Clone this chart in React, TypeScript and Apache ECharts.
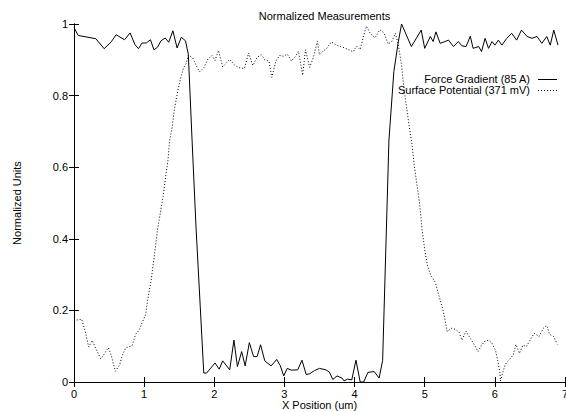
import React, { useEffect, useRef } from "react";
import * as echarts from "echarts";

const chartTitle = "Normalized Measurements";
const xAxisName = "X Position (um)";
const yAxisName = "Normalized Units";
const seriesNames = ["Force Gradient (85 A)", "Surface Potential (371 mV)"];

const forceGradient: number[][] = [
  [0.0, 0.99], [0.06, 0.968], [0.31, 0.959], [0.43, 0.931], [0.53, 0.95], [0.6, 0.97],
  [0.72, 0.956], [0.8, 0.975], [0.87, 0.942], [0.92, 0.931], [0.97, 0.947], [1.03, 0.947],
  [1.09, 0.956], [1.14, 0.928], [1.19, 0.935], [1.24, 0.953], [1.3, 0.961], [1.35, 0.949],
  [1.41, 0.981], [1.47, 0.933], [1.53, 0.963], [1.59, 0.953], [1.63, 0.915], [1.68, 0.69],
  [1.74, 0.43], [1.8, 0.21], [1.85, 0.025], [1.89, 0.025], [2.01, 0.053], [2.07, 0.036],
  [2.12, 0.059], [2.22, 0.034], [2.28, 0.117], [2.33, 0.043], [2.39, 0.085], [2.44, 0.045],
  [2.5, 0.11], [2.56, 0.071], [2.61, 0.071], [2.66, 0.104], [2.72, 0.059], [2.81, 0.045],
  [2.89, 0.063], [2.94, 0.046], [2.99, 0.017], [3.04, 0.038], [3.1, 0.033], [3.19, 0.034],
  [3.25, 0.061], [3.31, 0.021], [3.36, 0.023], [3.43, 0.032], [3.5, 0.038], [3.59, 0.034],
  [3.64, 0.028], [3.69, 0.007], [3.75, 0.017], [3.82, 0.011], [3.85, 0.003], [3.9, 0.008],
  [3.96, 0.006], [4.02, 0.061], [4.08, 0.0], [4.13, 0.0], [4.19, 0.027], [4.28, 0.029],
  [4.35, 0.011], [4.4, 0.06], [4.49, 0.676], [4.56, 0.867], [4.62, 0.946], [4.67, 1.0],
  [4.81, 0.937], [4.95, 0.983], [5.0, 0.932], [5.08, 0.965], [5.12, 0.951], [5.16, 0.978],
  [5.22, 0.946], [5.29, 0.951], [5.34, 0.955], [5.41, 0.937], [5.48, 0.951], [5.53, 0.939],
  [5.59, 0.937], [5.65, 0.966], [5.69, 0.932], [5.77, 0.937], [5.81, 0.923], [5.86, 0.96],
  [5.91, 0.932], [5.96, 0.951], [6.0, 0.941], [6.05, 0.955], [6.1, 0.941], [6.17, 0.96],
  [6.24, 0.974], [6.31, 0.955], [6.38, 0.983], [6.46, 0.965], [6.53, 0.96], [6.6, 0.965],
  [6.67, 0.946], [6.74, 0.965], [6.79, 0.941], [6.84, 0.983], [6.9, 0.941],
];

const surfacePotential: number[][] = [
  [0.0, 0.177], [0.04, 0.173], [0.11, 0.175], [0.16, 0.141], [0.21, 0.098], [0.26, 0.116],
  [0.31, 0.094], [0.38, 0.065], [0.42, 0.075], [0.49, 0.096], [0.53, 0.075], [0.59, 0.03],
  [0.65, 0.047], [0.69, 0.075], [0.74, 0.096], [0.79, 0.099], [0.83, 0.102], [0.88, 0.134],
  [0.93, 0.145], [0.98, 0.17], [1.02, 0.187], [1.05, 0.229], [1.1, 0.285], [1.15, 0.36],
  [1.19, 0.425], [1.23, 0.471], [1.27, 0.518], [1.3, 0.564], [1.34, 0.62], [1.36, 0.67],
  [1.4, 0.713], [1.43, 0.76], [1.48, 0.813], [1.52, 0.849], [1.56, 0.877], [1.6, 0.89],
  [1.63, 0.913], [1.69, 0.906], [1.74, 0.885], [1.79, 0.866], [1.85, 0.878], [1.91, 0.902],
  [1.97, 0.912], [2.01, 0.898], [2.06, 0.926], [2.12, 0.88], [2.17, 0.891], [2.22, 0.901],
  [2.29, 0.885], [2.35, 0.878], [2.43, 0.876], [2.49, 0.919], [2.55, 0.884], [2.61, 0.907],
  [2.67, 0.914], [2.72, 0.9], [2.78, 0.896], [2.82, 0.851], [2.88, 0.897], [2.93, 0.912],
  [2.99, 0.91], [3.04, 0.916], [3.1, 0.897], [3.16, 0.91], [3.2, 0.924], [3.26, 0.857],
  [3.3, 0.928], [3.36, 0.879], [3.41, 0.905], [3.47, 0.952], [3.5, 0.914], [3.55, 0.924],
  [3.6, 0.931], [3.67, 0.95], [3.73, 0.942], [3.79, 0.938], [3.86, 0.933], [3.92, 0.928],
  [3.98, 0.922], [4.03, 0.938], [4.08, 0.928], [4.12, 0.961], [4.17, 0.994], [4.22, 0.975],
  [4.29, 0.961], [4.36, 0.984], [4.42, 0.975], [4.48, 0.944], [4.53, 0.951], [4.58, 0.974],
  [4.62, 0.946], [4.67, 0.885], [4.7, 0.825], [4.74, 0.769], [4.78, 0.713], [4.82, 0.662],
  [4.85, 0.606], [4.89, 0.55], [4.93, 0.494], [4.96, 0.43], [5.0, 0.369], [5.04, 0.324],
  [5.09, 0.296], [5.15, 0.279], [5.21, 0.236], [5.26, 0.201], [5.29, 0.173], [5.32, 0.141],
  [5.38, 0.15], [5.44, 0.147], [5.49, 0.139], [5.53, 0.117], [5.59, 0.142], [5.62, 0.131],
  [5.67, 0.116], [5.71, 0.103], [5.76, 0.085], [5.8, 0.099], [5.85, 0.113], [5.91, 0.117],
  [5.96, 0.108], [6.01, 0.088], [6.04, 0.061], [6.07, 0.029], [6.08, 0.003], [6.11, 0.025],
  [6.15, 0.05], [6.2, 0.061], [6.26, 0.075], [6.3, 0.105], [6.35, 0.08], [6.4, 0.103],
  [6.45, 0.099], [6.49, 0.113], [6.56, 0.136], [6.63, 0.127], [6.69, 0.15], [6.74, 0.158],
  [6.78, 0.133], [6.84, 0.127], [6.89, 0.105],
];

const xMin = 0, xMax = 7, xStep = 1;
const yMin = 0, yMax = 1, yStep = 0.2;

const FONT = "'Liberation Sans', Arial, Helvetica, sans-serif";
const DOTS = [1, 2];

export default function App() {
  const ref = useRef<HTMLDivElement>(null);
  useEffect(() => {
    document.body.style.margin = "0";
    const chart = echarts.init(ref.current!, null, { renderer: "svg" });
    const axisLine = { show: true, lineStyle: { color: "#000", width: 1 } };
    const tick = { show: true, inside: true, length: 5, lineStyle: { color: "#000", width: 1 } };
    const label = { color: "#000", fontSize: 11, fontFamily: FONT };
    const legendRows = seriesNames.map((name, i) => {
      const cy = 79.5 + i * 11;
      return [
        {
          type: "text",
          right: 36,
          top: cy - 6,
          style: { text: name, fill: "#000", font: `11px ${FONT}`, textAlign: "right" },
        },
        {
          type: "line",
          shape: { x1: 538, y1: cy, x2: 557, y2: cy },
          style: { stroke: "#000", lineWidth: 1, lineDash: i === 1 ? DOTS : null },
        },
      ];
    }).flat();
    chart.setOption({
      animation: false,
      backgroundColor: "#fff",
      textStyle: { fontFamily: FONT },
      title: {
        text: chartTitle,
        left: 319.5,
        textAlign: "center",
        top: 5,
        textStyle: { color: "#000", fontSize: 11, fontWeight: "normal", fontFamily: FONT },
      },
      grid: { left: 74, right: 1, top: 24, bottom: 30, containLabel: false, outerBoundsMode: "none" },
      graphic: legendRows,
      xAxis: [
        {
          type: "value", min: xMin, max: xMax, interval: xStep, position: "bottom",
          name: xAxisName, nameLocation: "middle", nameGap: 17.5, nameMoveOverlap: false,
          nameTextStyle: { color: "#000", fontSize: 11, fontFamily: FONT },
          axisLine, axisTick: tick, splitLine: { show: false },
          axisLabel: { ...label, margin: 6 },
        },
        {
          type: "value", min: xMin, max: xMax, interval: xStep, position: "top",
          axisLine, axisTick: tick, splitLine: { show: false }, axisLabel: { show: false },
        },
      ],
      yAxis: [
        {
          type: "value", min: yMin, max: yMax, interval: yStep, position: "left",
          name: yAxisName, nameLocation: "middle", nameGap: 52, nameRotate: 90,
          nameTextStyle: { color: "#000", fontSize: 11, fontFamily: FONT },
          axisLine, axisTick: tick, splitLine: { show: false },
          axisLabel: { ...label, margin: 6 },
        },
        {
          type: "value", min: yMin, max: yMax, interval: yStep, position: "right",
          axisLine, axisTick: tick, splitLine: { show: false }, axisLabel: { show: false },
        },
      ],
      series: [
        {
          name: seriesNames[0], type: "line", data: forceGradient, symbol: "none",
          lineStyle: { color: "#000", width: 1 }, itemStyle: { color: "#000" },
        },
        {
          name: seriesNames[1], type: "line", data: surfacePotential, symbol: "none",
          lineStyle: { color: "#000", width: 1, type: DOTS }, itemStyle: { color: "#000" },
        },
      ],
    });
    return () => chart.dispose();
  }, []);
  return <div ref={ref} style={{ position: "fixed", left: 0, top: 0, width: 566, height: 412 }} />;
}
